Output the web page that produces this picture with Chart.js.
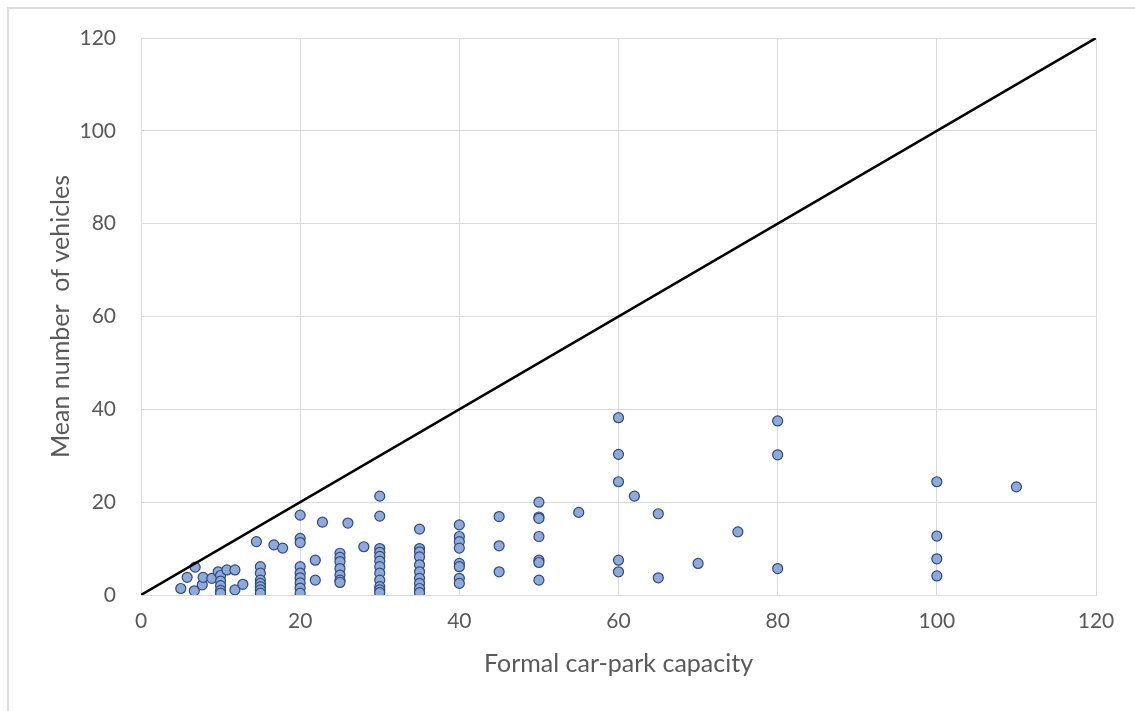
<!DOCTYPE html>
<html>
<head>
<meta charset="utf-8">
<script src="https://cdn.jsdelivr.net/npm/chart.js@4/dist/chart.umd.min.js"></script>
<style>
  html, body { margin: 0; padding: 0; background: #fff; }
  #wrap { position: relative; width: 1135px; height: 711px; }
  #frame { position: absolute; left: 7px; top: 7px; right: 0; bottom: 0;
           border-left: 2px solid #dcdcdc; border-top: 2px solid #dcdcdc; }
  canvas { position: absolute; left: 0; top: 0; }
</style>
</head>
<body>
<div id="wrap">
  <div id="frame"></div>
  <canvas id="chart" width="1135" height="711"></canvas>
</div>
<script>
// formal capacity (x) and mean vehicles (y)
const capacity = [
  5, 5.8, 6.8, 6.7, 7.7, 7.8, 8.9, 9.7,
  10, 10, 10, 10, 10,
  10.8, 11.8, 11.8, 12.8, 14.5,
  15, 15, 15, 15, 15, 15, 15,
  16.7, 17.8,
  20, 20, 20, 20, 20, 20, 20, 20, 20,
  21.9, 21.9, 22.8,
  25, 25, 25, 25, 25, 25, 25,
  26, 28,
  30, 30, 30, 30, 30, 30, 30, 30, 30, 30, 30, 30,
  35, 35, 35, 35, 35, 35, 35, 35, 35, 35,
  40, 40, 40, 40, 40, 40, 40, 40,
  45, 45, 45,
  50, 50, 50, 50, 50, 50, 50,
  55,
  60, 60, 60, 60, 60,
  62, 65, 65, 70, 75,
  80, 80, 80,
  100, 100, 100, 100,
  110
];
const vehicles = [
  1.4, 3.8, 6.0, 0.9, 2.2, 3.8, 3.6, 5.0,
  4.2, 3.0, 2.0, 1.0, 0.4,
  5.4, 5.4, 1.1, 2.3, 11.5,
  6.1, 4.7, 3.2, 2.5, 1.8, 1.1, 0.4,
  10.8, 10.1,
  17.2, 12.2, 11.3, 6.1, 4.7, 3.7, 2.6, 1.5, 0.4,
  7.5, 3.2, 15.7,
  9.0, 8.1, 7.2, 5.7, 4.3, 3.2, 2.7,
  15.5, 10.4,
  21.3, 17.0, 10.0, 9.2, 8.3, 7.3, 6.1, 4.7, 3.2, 1.8, 1.1, 0.5,
  14.2, 10.0, 9.3, 8.2, 6.5, 5.0, 3.6, 2.5, 1.4, 0.5,
  15.1, 12.6, 11.5, 10.1, 6.8, 6.1, 3.6, 2.5,
  16.9, 10.6, 5.0,
  20.0, 16.8, 16.5, 12.6, 7.5, 7.0, 3.2,
  17.8,
  38.2, 30.3, 24.4, 7.5, 5.0,
  21.3, 17.5, 3.7, 6.8, 13.6,
  37.5, 30.2, 5.7,
  24.4, 12.7, 7.8, 4.1,
  23.3
];
// 1:1 reference line
const lineX = [0, 120];
const lineY = [0, 120];

const gridColor = "#d9d9d9";
const textColor = "#595959";
const fontFamily = "Lato, 'Open Sans', sans-serif";

new Chart(document.querySelector("#chart"), {
    type: "scatter",
    data: {
        datasets: [
            {
                type: "line",
                data: lineX.map((x, i) => ({x: x, y: lineY[i]})),
                borderColor: "#000",
                borderWidth: 2.5,
                pointRadius: 0,
                fill: false
            },
            {
                data: capacity.map((x, i) => ({x: x, y: vehicles[i]})),
                backgroundColor: "#8eaadb",
                borderColor: "#2f4a7c",
                borderWidth: 1.2,
                pointRadius: 5
            }
        ]
    },
    options: {
        responsive: false,
        animation: false,
        layout: { padding: { left: 42, top: 38, right: 39, bottom: 28 } },
        plugins: { legend: { display: false }, tooltip: { enabled: false } },
        scales: {
            x: {
                type: "linear",
                min: 0,
                max: 120,
                ticks: { stepSize: 20, padding: 14, color: textColor, font: { family: fontFamily, size: 21 } },
                grid: { color: gridColor, drawTicks: false },
                border: { color: gridColor },
                title: { display: true, text: "Formal car-park capacity", color: textColor,
                         font: { family: fontFamily, size: 25 } },
                afterFit: axis => { axis.height = 88; }
            },
            y: {
                min: 0,
                max: 120,
                ticks: { stepSize: 20, padding: 25, color: textColor, font: { family: fontFamily, size: 21 } },
                grid: { color: gridColor, drawTicks: false },
                border: { color: gridColor },
                title: { display: true, text: "Mean number  of vehicles", color: textColor,
                         font: { family: fontFamily, size: 25 } },
                afterFit: axis => { axis.width = 99; }
            }
        }
    }
});
</script>
</body>
</html>
